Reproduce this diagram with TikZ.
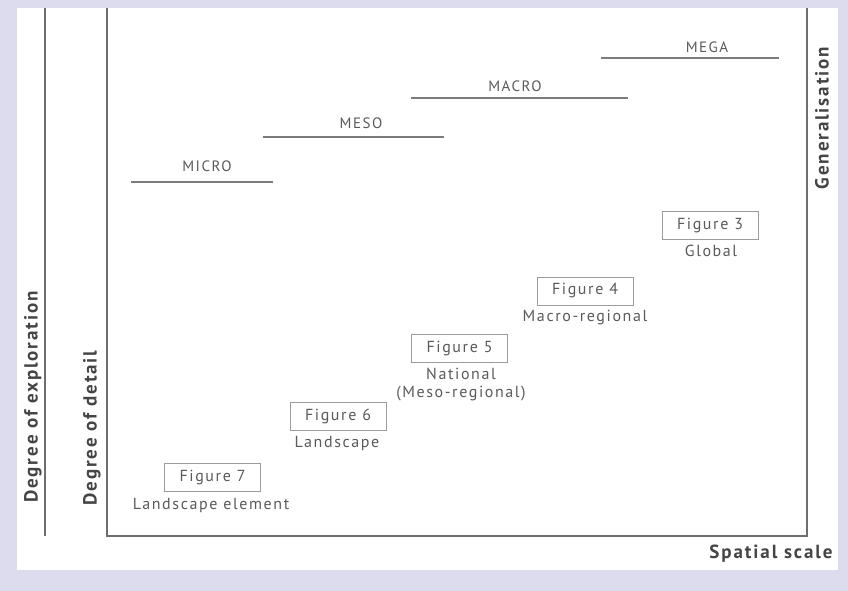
\documentclass[tikz,border=0pt]{standalone}
\usepackage{fontspec}
\setmainfont{PT Sans}
\newfontfamily\labelfont[LetterSpace=10]{PT Sans}
\definecolor{framebg}{HTML}{DCDCEE}
\definecolor{axisgray}{HTML}{6E6E6E}
\definecolor{levelgray}{HTML}{7C7C7C}
\definecolor{boxgray}{HTML}{9C9C9C}
\definecolor{labelgray}{HTML}{5A5A5A}
\definecolor{titlegray}{HTML}{454545}
\begin{document}
\begin{tikzpicture}[x=1pt,y=-1pt,
  axisline/.style={draw=axisgray, line width=1.3pt},
  levelline/.style={draw=levelgray, line width=1.3pt},
  leveltext/.style={text=labelgray, font=\labelfont\fontsize{15}{17}\selectfont, inner sep=0pt},
  figbox/.style={draw=boxgray, line width=0.9pt, minimum width=96pt, minimum height=28pt,
    inner sep=0pt, text=labelgray, font=\labelfont\fontsize{16}{18}\selectfont},
  subtext/.style={text=labelgray, font=\labelfont\fontsize{16}{18}\selectfont, inner sep=0pt, align=center},
  axistitle/.style={text=titlegray, font=\labelfont\bfseries\fontsize{19}{21}\selectfont, inner sep=0pt}]
\useasboundingbox (0,0) rectangle (848,591);
% lavender frame with white panel
\fill[framebg] (0,0) rectangle (848,591);
\fill[white] (17,8) rectangle (838,570);

% axes
\coordinate (ex-top) at (45,8);
\coordinate (ex-bot) at (45,536);
\coordinate (ax-tl) at (107,8);
\coordinate (ax-bl) at (107,536);
\coordinate (ax-br) at (807,536);
\coordinate (ax-tr) at (807,8);
\draw[axisline] (ex-top) -- (ex-bot);
\draw[axisline] (ax-tl) -- (ax-bl) -- (ax-br) -- (ax-tr);

% axis titles
\node[axistitle, rotate=90] (t-expl) at (33,397) {Degree of exploration};
\node[axistitle, rotate=90] (t-detail) at (92,428) {Degree of detail};
\node[axistitle, rotate=90] (t-gen) at (822,118) {Generalisation};
\node[axistitle] (t-scale) at (771,554) {Spatial scale};

% scale levels
\coordinate (micro-a) at (131,182); \coordinate (micro-b) at (273,182);
\coordinate (meso-a) at (263,137);  \coordinate (meso-b) at (444,137);
\coordinate (macro-a) at (411,98);  \coordinate (macro-b) at (628,98);
\coordinate (mega-a) at (601,58);   \coordinate (mega-b) at (779,58);
\draw[levelline] (micro-a) -- (micro-b);
\draw[levelline] (meso-a) -- (meso-b);
\draw[levelline] (macro-a) -- (macro-b);
\draw[levelline] (mega-a) -- (mega-b);
\node[leveltext] (micro) at (207,166) {MICRO};
\node[leveltext] (meso) at (361,123) {MESO};
\node[leveltext] (macro) at (515,86) {MACRO};
\node[leveltext] (mega) at (707,47) {MEGA};

% figure boxes
\node[figbox] (f3) at (710,225.5) {Figure 3};
\node[figbox] (f4) at (585,291) {Figure 4};
\node[figbox] (f5) at (459.5,348.5) {Figure 5};
\node[figbox] (f6) at (338,416) {Figure 6};
\node[figbox] (f7) at (212.5,477.5) {Figure 7};
\node[subtext] (s3) at (711,251) {Global};
\node[subtext] (s4) at (585,318) {Macro-regional};
\node[subtext] (s5) at (461,385) {National\\(Meso-regional)};
\node[subtext] (s6) at (337,443) {Landscape};
\node[subtext] (s7) at (211,505) {Landscape element};
\end{tikzpicture}
\end{document}
